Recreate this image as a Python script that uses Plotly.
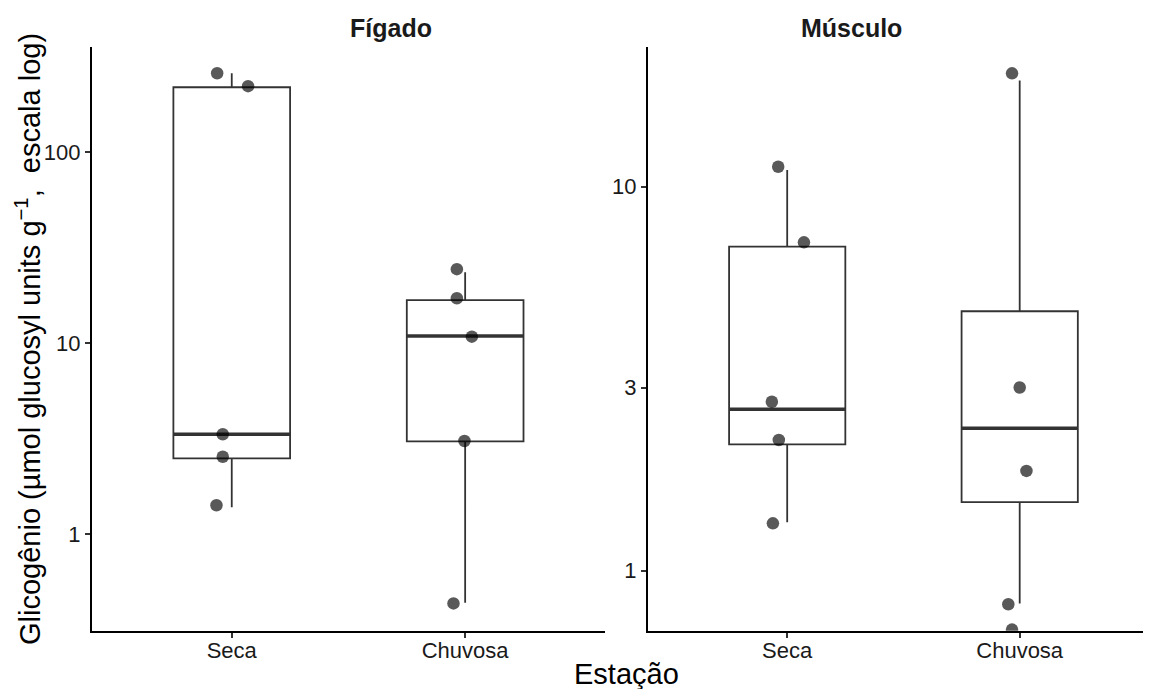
import plotly.graph_objects as go

# ---------------- data ----------------
categories = ["Seca", "Chuvosa"]
cat_pos = [1, 2]

# Box statistics (lower whisker, Q1, median, Q3, upper whisker)
figado_lower = [1.38, 0.436]
figado_q1 = [2.49, 3.06]
figado_median = [3.33, 10.9]
figado_q3 = [219.0, 16.8]
figado_upper = [259.4, 23.5]

musculo_lower = [1.337, 0.822]
musculo_q1 = [2.135, 1.51]
musculo_median = [2.633, 2.35]
musculo_q3 = [6.98, 4.74]
musculo_upper = [11.05, 18.9]

# Individual (jittered) observations
figado_seca_y = [259.4, 222.0, 3.33, 2.54, 1.414]
figado_seca_jitter = [-0.0625, 0.070, -0.0385, -0.0385, -0.0655]
figado_chuvosa_y = [24.4, 17.18, 10.81, 3.07, 0.433]
figado_chuvosa_jitter = [-0.0355, -0.0355, 0.0287, -0.003, -0.050]

musculo_seca_y = [11.27, 7.165, 2.755, 2.19, 1.329]
musculo_seca_jitter = [-0.0387, 0.072, -0.066, -0.036, -0.0615]
musculo_chuvosa_y = [19.74, 3.0, 1.82, 0.818, 0.703]
musculo_chuvosa_jitter = [-0.033, 0.0, 0.029, -0.049, -0.033]

figado_ticks = [1, 10, 100]
musculo_ticks = [1, 3, 10]

# ---------------- styling ----------------
PAGE_W, PAGE_H = 1151, 689
OFF = 8  # default page body margin
W, H = PAGE_W - OFF, PAGE_H - OFF
BOX_W = 0.5
LINE_C = "#333333"
PT_C = "rgba(0,0,0,0.65)"
FONT = "Liberation Sans, Arial, sans-serif"

fig = go.Figure()

panels = [
    ("x", "y", figado_lower, figado_q1, figado_median, figado_q3, figado_upper,
     [(figado_seca_jitter, figado_seca_y), (figado_chuvosa_jitter, figado_chuvosa_y)]),
    ("x2", "y2", musculo_lower, musculo_q1, musculo_median, musculo_q3, musculo_upper,
     [(musculo_seca_jitter, musculo_seca_y), (musculo_chuvosa_jitter, musculo_chuvosa_y)]),
]

for xa, ya, lo, q1, med, q3, up, pts in panels:
    fig.add_trace(go.Box(
        x=cat_pos, lowerfence=lo, q1=q1, median=med, q3=q3, upperfence=up,
        width=BOX_W, whiskerwidth=0, fillcolor="white",
        line=dict(color=LINE_C, width=1.8), boxpoints=False,
        xaxis=xa, yaxis=ya, showlegend=False, hoverinfo="skip"))
    # thicker median segments
    for i, m in enumerate(med):
        fig.add_trace(go.Scatter(
            x=[cat_pos[i] - BOX_W / 2, cat_pos[i] + BOX_W / 2], y=[m, m],
            mode="lines", line=dict(color=LINE_C, width=3.4),
            xaxis=xa, yaxis=ya, showlegend=False, hoverinfo="skip"))
    for i, (jit, yy) in enumerate(pts):
        fig.add_trace(go.Scatter(
            x=[cat_pos[i] + j for j in jit], y=yy, mode="markers",
            marker=dict(size=12.5, color=PT_C, line=dict(width=0)),
            xaxis=xa, yaxis=ya, showlegend=False, hoverinfo="skip"))

def px_x(p):
    return (p - OFF) / W

def px_y(p):
    return (H - (p - OFF)) / H

left_dom = [px_x(91.7), px_x(605.2)]
right_dom = [px_x(647.7), 1.0]
ydom = [px_y(630.7), px_y(46.7)]
right_unit = 232.5

common_x = dict(
    tickmode="array", tickvals=cat_pos, ticktext=categories, automargin=False,
    showline=True, linecolor="black", linewidth=1.8, ticks="outside",
    ticklen=5, tickwidth=1.5, tickcolor="#333333", showgrid=False, zeroline=False,
    ticklabelstandoff=-6,
    tickfont=dict(family=FONT, size=22, color="#1a1a1a"))
common_y = dict(
    type="log", showline=True, linecolor="black", linewidth=1.8, ticks="outside",
    ticklen=5, tickwidth=1.5, tickcolor="#333333", showgrid=False, zeroline=False,
    automargin=False,
    tickfont=dict(family=FONT, size=22, color="#1a1a1a"), tickmode="array")

fig.update_layout(
    width=W, height=H, margin=dict(l=0, r=0, t=0, b=0, autoexpand=False),
    paper_bgcolor="white", plot_bgcolor="white",
    xaxis=dict(domain=left_dom, range=[0.4, 2.6], anchor="y", **common_x),
    xaxis2=dict(domain=right_dom, range=[0.4, 0.4 + (PAGE_W - 647.7) / right_unit],
                anchor="y2", **common_x),
    yaxis=dict(domain=ydom, range=[-0.5066, 2.553], anchor="x",
               tickvals=figado_ticks, ticktext=[str(t) for t in figado_ticks], **common_y),
    yaxis2=dict(domain=ydom, range=[-0.156, 1.3646], anchor="x2",
                tickvals=musculo_ticks, ticktext=[str(t) for t in musculo_ticks], **common_y),
    annotations=[
        dict(text="<b>Fígado</b>", x=(left_dom[0] + left_dom[1]) / 2, y=px_y(28),
             xref="paper", yref="paper", showarrow=False, yanchor="middle",
             font=dict(family=FONT, size=25, color="#1a1a1a")),
        dict(text="<b>Músculo</b>", x=px_x(904), y=px_y(28),
             xref="paper", yref="paper", showarrow=False, yanchor="middle",
             font=dict(family=FONT, size=25, color="#1a1a1a")),
        dict(text="Estação", x=px_x(626), y=px_y(674), xref="paper", yref="paper",
             showarrow=False, yanchor="middle",
             font=dict(family=FONT, size=29, color="black")),
        dict(text="Glicogênio (µmol glucosyl units g<sup>−1</sup>,  escala log)",
             x=px_x(28), y=px_y(339), xref="paper", yref="paper", showarrow=False,
             textangle=-90, xanchor="center", yanchor="middle",
             font=dict(family=FONT, size=29, color="black")),
    ],
)

fig.write_html("out.html")
